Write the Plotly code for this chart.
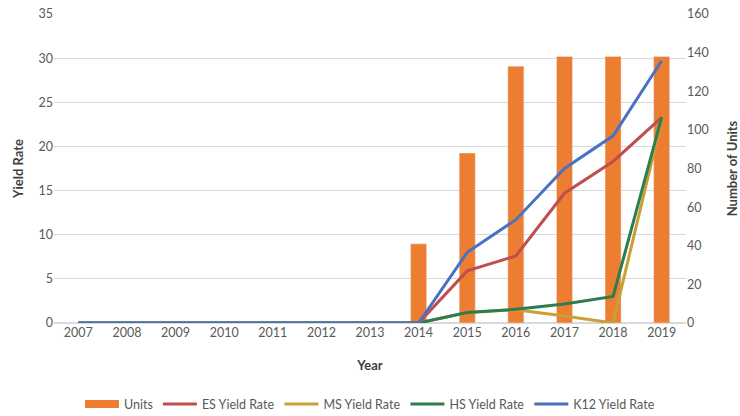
import plotly.graph_objects as go

years = [str(y) for y in range(2007, 2020)]
units = [0, 0, 0, 0, 0, 0, 0, 41, 88, 133, 138, 138, 138]
es_yield = [0, 0, 0, 0, 0, 0, 0, 0, 5.9, 7.6, 14.7, 18.3, 23.3]
ms_yield = [0, 0, 0, 0, 0, 0, 0, 0, 1.2, 1.5, 0.8, 0, 23.0]
hs_yield = [0, 0, 0, 0, 0, 0, 0, 0, 1.2, 1.55, 2.15, 3.0, 23.3]
k12_yield = [0, 0, 0, 0, 0, 0, 0, 0, 8.0, 11.7, 17.5, 21.2, 29.7]

FONT = "Lato"
TICK = "#595959"
ORANGE = "#ED7D31"

fig = go.Figure()
fig.add_trace(go.Bar(x=years, y=units, name="Units", marker_color=ORANGE,
                     width=0.33, yaxis="y", showlegend=False, legendgroup="units"))
# wide swatch for the bar series in the legend
fig.add_trace(go.Scatter(x=[None], y=[None], name="Units", mode="lines",
                         line=dict(color=ORANGE, width=8), yaxis="y",
                         legendgroup="units", hoverinfo="skip"))
lines = [
    ("ES Yield Rate", es_yield, "#BE4F4C"),
    ("MS Yield Rate", ms_yield, "#C9A035"),
    ("HS Yield Rate", hs_yield, "#2E7D4F"),
    ("K12 Yield Rate", k12_yield, "#4A72C0"),
]
for name, vals, col in lines:
    fig.add_trace(go.Scatter(x=years, y=vals, name=name, mode="lines",
                             line=dict(color=col, width=3), yaxis="y2"))

fig.update_layout(
    width=740, height=416,
    margin=dict(l=54, r=54, t=14, b=93, autoexpand=False),
    paper_bgcolor="white", plot_bgcolor="white",
    font=dict(family=FONT, size=12, color=TICK),
    showlegend=True,
    legend=dict(orientation="h", x=0.5, xanchor="center", y=-0.312, yanchor="bottom",
                font=dict(size=12.5, color=TICK), itemwidth=34, traceorder="normal",
                tracegroupgap=0),
    xaxis=dict(type="category", showgrid=False, showline=False, ticks="", automargin=False,
               tickfont=dict(size=12.5, color=TICK),
               title=dict(text="<b>Year</b>", font=dict(size=13, color="#404040"), standoff=22)),
    yaxis=dict(side="right", range=[0, 160], dtick=20, showgrid=False, automargin=False,
               zeroline=False, showline=False, ticks="",
               tickfont=dict(size=12.5, color=TICK),
               title=dict(text="<b>Number of Units</b>", font=dict(size=13, color="#404040"),
                          standoff=26)),
    yaxis2=dict(side="left", overlaying="y", range=[0, 35], dtick=5, automargin=False,
                showgrid=True, gridcolor="#D9D9D9", gridwidth=1,
                zeroline=True, zerolinecolor="#D9D9D9", showline=False, ticks="",
                tickfont=dict(size=12.5, color=TICK),
                title=dict(text="<b>Yield Rate</b>", font=dict(size=13, color="#404040"),
                           standoff=11)),
    bargap=0.67,
)

fig.write_html("out.html")
